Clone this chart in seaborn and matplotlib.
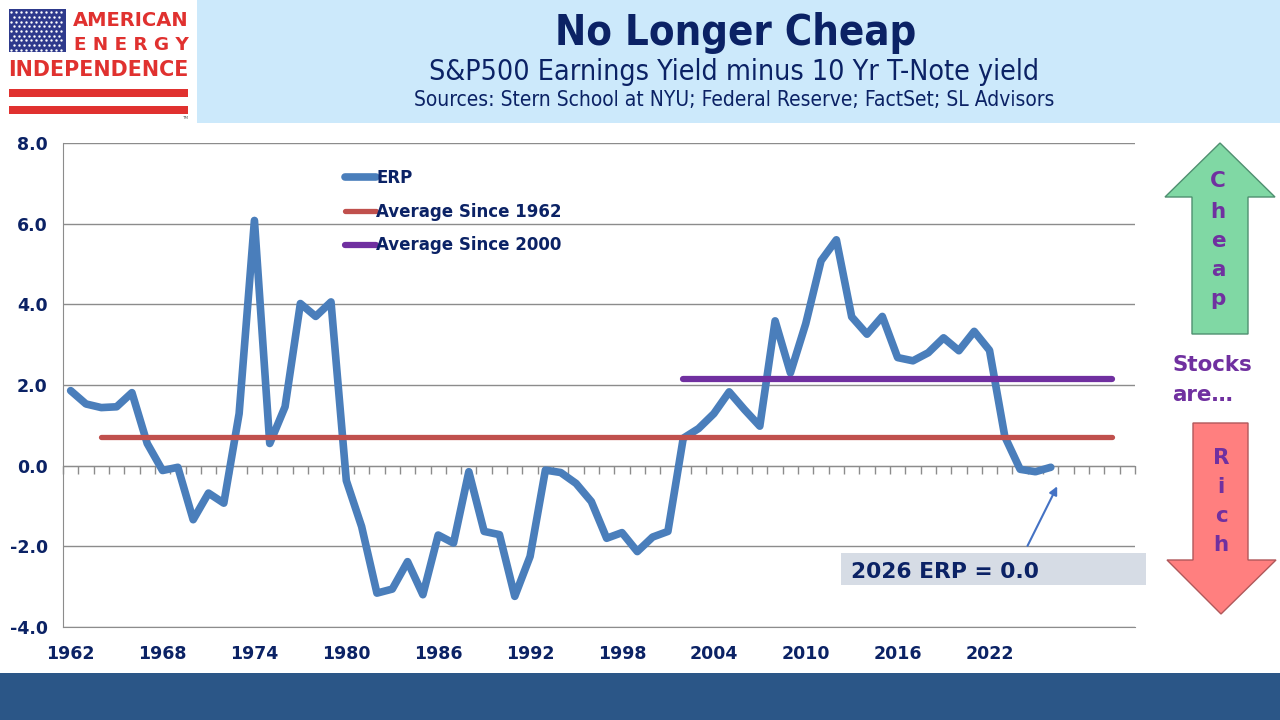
import matplotlib
matplotlib.use('Agg')
import matplotlib.pyplot as plt
import seaborn as sns
from matplotlib.patches import Rectangle, Polygon

# Data
years = list(range(1962, 2027))
erp = [1.86, 1.53, 1.44, 1.46, 1.81, 0.55, -0.12, -0.04, -1.34, -0.68,
       -0.93, 1.29, 6.08, 0.55, 1.46, 4.02, 3.70, 4.06, -0.37, -1.51,
       -3.16, -3.06, -2.38, -3.20,
       -1.72, -1.92, -0.15, -1.63, -1.71, -3.24, -2.25, -0.11, -0.17, -0.44,
       -0.89, -1.80, -1.66, -2.13, -1.77, -1.63, 0.68, 0.92, 1.29, 1.83,
       1.39, 0.98, 3.59, 2.30, 3.52,
       5.08, 5.60, 3.69, 3.26, 3.70, 2.68, 2.60, 2.80, 3.17, 2.85, 3.33,
       2.86, 0.72, -0.09, -0.15, -0.04]
avg1962_years = [1964, 2030]
avg1962 = [0.70, 0.70]
avg2000_years = [2002, 2030]
avg2000 = [2.16, 2.16]
xtick_years = [1962, 1968, 1974, 1980, 1986, 1992, 1998, 2004, 2010, 2016, 2022]
ytick_vals = [-4, -2, 0, 2, 4, 6, 8]

NAVY = '#0b2265'
PURPLE = '#7030a0'
GRID = '#8c8c8c'
W, H = 1280, 720


def px(x, y):
    return (x / W, 1 - y / H)


sns.set_style('white')
plt.rcParams['font.family'] = ['DejaVu Sans']

fig = plt.figure(figsize=(12.8, 7.2), dpi=100)
ax = fig.add_axes([63 / W, 1 - 627 / H, (1135 - 63) / W, (627 - 143) / H])

sns.lineplot(x=years, y=erp, ax=ax, color='#4a7ebb', linewidth=5.5,
             label='ERP', solid_capstyle='round', solid_joinstyle='round')
sns.lineplot(x=avg1962_years, y=avg1962, ax=ax, color='#c0504d', linewidth=3.8,
             label='Average Since 1962', solid_capstyle='round')
sns.lineplot(x=avg2000_years, y=avg2000, ax=ax, color=PURPLE, linewidth=4.5,
             label='Average Since 2000', solid_capstyle='round')

ax.set_xlim(1961.5, 2031.5)
ax.set_ylim(-4, 8)
ax.set_yticks(ytick_vals)
ax.set_yticklabels([f'{v:.1f}' for v in ytick_vals])
ax.set_xticks(xtick_years)
ax.set_xticklabels([str(y) for y in xtick_years])
ax.tick_params(axis='both', length=0, labelsize=12.5, labelcolor=NAVY)
ax.tick_params(axis='x', pad=13)
ax.tick_params(axis='y', pad=11)
for lab in ax.get_xticklabels() + ax.get_yticklabels():
    lab.set_fontweight('bold')
ax.grid(axis='y', color=GRID, linewidth=1)
ax.grid(axis='x', visible=False)
for s in ['top', 'right']:
    ax.spines[s].set_visible(False)
ax.spines['left'].set_color(GRID)
ax.spines['bottom'].set_color(GRID)
ax.set_xlabel('')
ax.set_ylabel('')

# category axis crossing at zero with tick marks between years
sec = ax.secondary_xaxis(1 / 3)
sec.set_xticks([y + 0.5 for y in range(1961, 2032)])
sec.set_xticklabels([])
sec.tick_params(length=6, color=GRID, width=1)
sec.spines['bottom'].set_color(GRID)

leg = ax.legend(loc='upper left', bbox_to_anchor=(0.2555, 0.964), frameon=False,
                handlelength=1.85, handletextpad=0.0, labelspacing=0.95,
                borderpad=0, prop={'weight': 'bold', 'size': 12})
for t in leg.get_texts():
    t.set_color(NAVY)

# arrow to latest value
ax.annotate('', xy=(2026.5, -0.45), xytext=(2024.4, -2.05),
            arrowprops=dict(arrowstyle='-|>', color='#4472c4', lw=1.5,
                            mutation_scale=12))

# label box
fig.patches.append(Rectangle(px(841, 585), 305 / W, 32 / H, transform=fig.transFigure,
                             facecolor='#d6dce5', edgecolor='none', zorder=5))
fig.text(*px(851, 572), '2026 ERP = 0.0', fontsize=15.7, fontweight='bold',
         color=NAVY, va='center', ha='left', zorder=6)

# header
fig.patches.append(Rectangle(px(197, 123), 1 - 197 / W, 123 / H, transform=fig.transFigure,
                             facecolor='#cce9fb', edgecolor='none', zorder=0))
fig.text(*px(736, 33), 'No Longer Cheap', fontsize=30, fontweight='bold',
         color=NAVY, ha='center', va='center', fontstretch='condensed')
fig.text(*px(734, 72), 'S&P500 Earnings Yield minus 10 Yr T-Note yield', fontsize=20.5,
         color=NAVY, ha='center', va='center', fontstretch='condensed')
fig.text(*px(734, 100), 'Sources: Stern School at NYU; Federal Reserve; FactSet; SL Advisors',
         fontsize=15, color=NAVY, ha='center', va='center', fontstretch='condensed')

# logo
RED = '#e0312f'
flag = fig.add_axes([9 / W, 1 - 52 / H, 57 / W, 43 / H])
flag.set_facecolor('#2e3a8c')
fx, fy = [], []
for r in range(9):
    for c in range(11 if r % 2 == 0 else 10):
        fx.append(c + (0.5 if r % 2 else 0) + 0.5)
        fy.append(r + 0.5)
flag.scatter(fx, fy, s=3, color='white', linewidths=0)
flag.set_xlim(0, 11.5)
flag.set_ylim(0, 9.2)
flag.set_xticks([])
flag.set_yticks([])
for s in flag.spines.values():
    s.set_visible(False)
fig.text(*px(131, 20), 'AMERICAN', fontsize=14, fontweight='bold', color=RED,
         ha='center', va='center')
fig.text(*px(131, 45), 'E N E R G Y', fontsize=13.2, fontweight='bold', color=RED,
         ha='center', va='center')
fig.text(*px(98, 70), 'INDEPENDENCE', fontsize=14.9, fontweight='bold', color=RED,
         ha='center', va='center')
for y0 in (97, 114):
    fig.patches.append(Rectangle(px(9, y0), 179 / W, 8 / H, transform=fig.transFigure,
                                 facecolor=RED, edgecolor='none'))
fig.text(*px(185, 118), 'TM', fontsize=3, color='#555555', ha='center', va='center')

# right side arrows
up = [(1220, 143), (1275, 197), (1248, 197), (1248, 334), (1192, 334), (1192, 197), (1165, 197)]
fig.patches.append(Polygon([px(*p) for p in up], closed=True, transform=fig.transFigure,
                           facecolor='#80d8a4', edgecolor='#4f8f70', linewidth=1))
for ch, yy in zip('Cheap', [181, 212, 241, 270, 299]):
    fig.text(*px(1218, yy), ch, fontsize=15.5, fontweight='bold', color=PURPLE,
             ha='center', va='center')
down = [(1193, 423), (1248, 423), (1248, 560), (1276, 560), (1221, 614), (1167, 560), (1193, 560)]
fig.patches.append(Polygon([px(*p) for p in down], closed=True, transform=fig.transFigure,
                           facecolor='#ff7f7f', edgecolor='#b0585a', linewidth=1))
for ch, yy in zip('Rich', [458, 487, 516, 545]):
    fig.text(*px(1221, yy), ch, fontsize=15.5, fontweight='bold', color=PURPLE,
             ha='center', va='center')
fig.text(*px(1172, 365), 'Stocks', fontsize=15.4, fontweight='bold', color=PURPLE,
         ha='left', va='center')
fig.text(*px(1172, 395), 'are…', fontsize=15.4, fontweight='bold', color=PURPLE,
         ha='left', va='center')

# bottom band
fig.patches.append(Rectangle((0, 0), 1, 47 / H, transform=fig.transFigure,
                             facecolor='#2b5687', edgecolor='none'))

fig.savefig('out.png', dpi=100)
